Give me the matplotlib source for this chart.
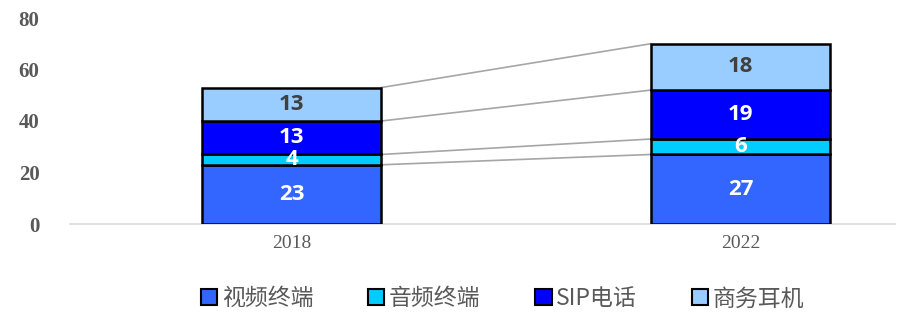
import matplotlib
matplotlib.use("Agg")
import matplotlib.pyplot as plt
import numpy as np

years = ["2018", "2022"]
series = ["视频终端", "音频终端", "SIP电话", "商务耳机"]
video_terminal = [23, 27]
audio_terminal = [4, 6]
sip_phone = [13, 19]
headset = [13, 18]
values = [video_terminal, audio_terminal, sip_phone, headset]
colors = ["#3366FF", "#00CCFF", "#0000FF", "#99CCFF"]
label_colors = ["white", "white", "white", "#404040"]
yticks = [0, 20, 40, 60, 80]

fig = plt.figure(figsize=(9.04, 3.13), dpi=100)
ax = fig.add_axes([70/904, (313-224)/313, 825/904, (224-18)/313])

x = np.arange(len(years))
w = 0.4
bottom = np.zeros(len(years))
tops = []
for s, vals, c, lc in zip(series, values, colors, label_colors):
    v = np.array(vals, dtype=float)
    ax.bar(x, v, w, bottom=bottom, color=c, edgecolor="black", linewidth=1.8,
           label=s, zorder=3)
    for xi, vi, bi in zip(x, v, bottom):
        ax.text(xi, bi + vi/2, f"{int(vi)}", ha="center", va="center",
                color=lc, fontsize=16, fontweight="bold",
                family="Open Sans", zorder=5)
    bottom = bottom + v
    tops.append(bottom.copy())

for t in tops:
    ax.plot([x[0] + w/2, x[1] - w/2], [t[0], t[1]], color="#A6A6A6",
            linewidth=1.2, zorder=2)

ax.set_xlim(-0.4934, 1.344)
ax.set_ylim(0, 80)
ax.set_yticks(yticks)
ax.set_yticklabels([str(v) for v in yticks], family="Liberation Serif",
                   fontsize=15, color="#595959", fontweight="bold")
ax.set_xticks(x)
ax.set_xticklabels(years, family="Liberation Serif", fontsize=14, color="#595959")
ax.tick_params(axis="both", length=0)
ax.tick_params(axis="y", pad=22)
ax.tick_params(axis="x", pad=8)
for sp in ["top", "right", "left"]:
    ax.spines[sp].set_visible(False)
ax.spines["bottom"].set_color("#D9D9D9")
ax.spines["bottom"].set_linewidth(1.2)

leg = fig.legend(loc="center", bbox_to_anchor=(0.556, 0.045), ncol=4,
                 frameon=False, prop={"family": ["Noto Sans CJK SC", "DejaVu Sans"], "size": 16.5},
                 handlelength=0.7, handleheight=0.7, handletextpad=0.2,
                 columnspacing=2.4, labelcolor="#595959")
for h in leg.legend_handles:
    h.set_linewidth(1.5)

fig.savefig("out.png", dpi=100)
